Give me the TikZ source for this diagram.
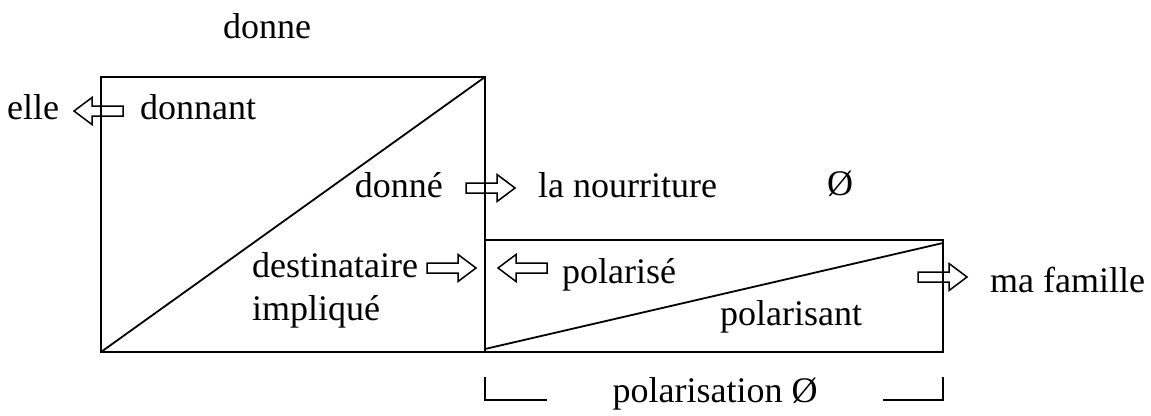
\documentclass[tikz,border=0pt]{standalone}
\usepackage{fontspec}
\setmainfont{Liberation Serif}
\begin{document}
\begin{tikzpicture}[x=1pt,y=-1pt,
  boxline/.style={line width=1.8pt},
  arrline/.style={line width=1.5pt,line join=miter},
  lbl/.style={inner sep=0pt,font=\fontsize{36}{42}\selectfont}]
\useasboundingbox (0,0) rectangle (1151,415);
% big box
\coordinate (BTL) at (101,77);
\coordinate (BTR) at (485,77);
\coordinate (BBL) at (101,352);
\coordinate (BBR) at (485,352);
\draw[boxline] (BTL) -- (BTR) -- (BBR) -- (BBL) -- cycle;
\draw[boxline] (BBL) -- (BTR);
% small box
\coordinate (STL) at (485,240);
\coordinate (STR) at (943,240);
\coordinate (SBR) at (943,352);
\coordinate (SBL) at (485,352);
\coordinate (SD1) at (485,349);
\coordinate (SD2) at (943,243);
\draw[boxline] (STL) -- (STR) -- (SBR) -- (SBL) -- cycle;
\draw[boxline] (SD1) -- (SD2);
% bracket
\coordinate (K1) at (485,377);
\coordinate (K2) at (485,400);
\coordinate (K3) at (547,400);
\coordinate (K4) at (883,400);
\coordinate (K5) at (943,400);
\coordinate (K6) at (943,377);
\draw[boxline] (K1) -- (K2) -- (K3);
\draw[boxline] (K4) -- (K5) -- (K6);
% block arrows: tail x, centre y, direction
\newcommand{\blockarrow}[3]{%
  \draw[arrline] (#1,#2) ++(0,-5) -- ++(#3*31,0) -- ++(0,-8.5) -- ++(#3*18,13.5)
    -- ++(-#3*18,13.5) -- ++(0,-8.5) -- ++(-#3*31,0) -- cycle;}
\blockarrow{123}{111}{-1}
\blockarrow{466}{188}{1}
\blockarrow{427}{268}{1}
\blockarrow{547}{268}{-1}
\blockarrow{918}{277}{1}
% labels
\node[lbl,anchor=base] (donne) at (267,38) {donne};
\node[lbl,anchor=base west] (elle) at (7,119) {elle};
\node[lbl,anchor=base west] (donnant) at (140,119) {donnant};
\node[lbl,anchor=base east] (donneb) at (443,197) {donné};
\node[lbl,anchor=base west] (nourr) at (538,197) {la nourriture};
\node[lbl,anchor=base] (empty1) at (840,195) {Ø};
\node[lbl,anchor=base west] (dest) at (252,277) {destinataire};
\node[lbl,anchor=base west] (impl) at (252,320) {impliqué};
\node[lbl,anchor=base west] (polz) at (562,283) {polarisé};
\node[lbl,anchor=base west] (polant) at (720,325) {polarisant};
\node[lbl,anchor=base west] (fam) at (990,292) {ma famille};
\node[lbl,anchor=base] (polation) at (715,402) {polarisation Ø};
\end{tikzpicture}
\end{document}
